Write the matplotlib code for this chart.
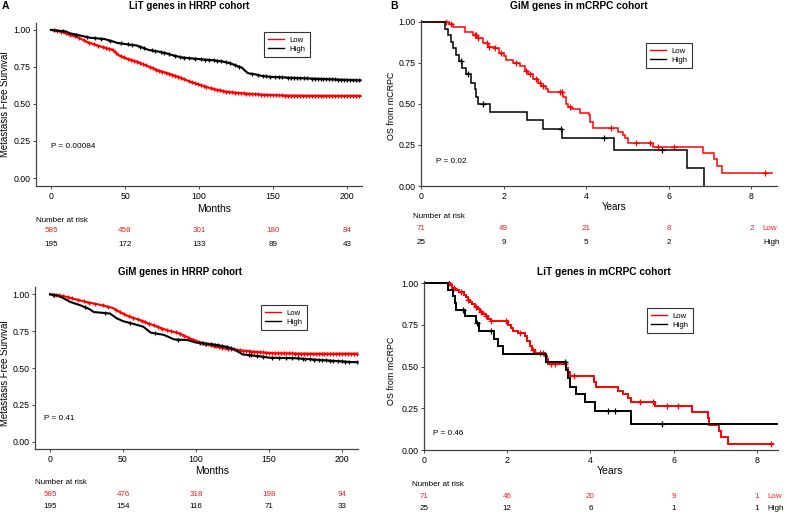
import numpy as np
import matplotlib
matplotlib.use("Agg")
import matplotlib.pyplot as plt
from matplotlib.transforms import blended_transform_factory
from matplotlib.lines import Line2D

plt.rcParams['font.family'] = ['Liberation Sans', 'DejaVu Sans']

W, H = 787, 513
RED = '#ff0000'
RISKRED = '#ee2222'
BLACK = '#000000'
SPINE = '#444444'

# ---------------- data ----------------
# Panel A: LiT genes in HRRP cohort (months)
a_low_t = [0, 3, 8, 12, 18, 24, 33, 42, 45.5, 50, 58, 65, 71.5, 78, 87, 94, 101, 110, 119, 128, 141, 157, 180]
a_low_s = [1.0, 0.997, 0.985, 0.968, 0.952, 0.92, 0.89, 0.865, 0.83, 0.81, 0.786, 0.756, 0.73, 0.71, 0.68, 0.65, 0.627, 0.60, 0.582, 0.573, 0.564, 0.557, 0.555]
a_low_end = 209
a_low_cens = [4, 7, 10, 13, 16, 19, 22, 26, 29, 32, 35, 37, 39, 42, 44, 47, 49, 52, 54, 56, 58, 60, 62, 64, 67, 69, 71, 73, 75, 78, 80, 82, 84, 86, 88, 90, 93, 95, 97, 99, 101, 103, 105, 108, 110, 112, 114, 116, 118, 120, 122, 124, 126, 128, 130, 132, 134, 136, 138, 140, 142, 144, 146, 148, 150, 152, 154, 156, 158, 160, 162, 164, 166, 168, 170, 172, 174, 176, 178, 180, 182, 184, 186, 188, 190, 192, 194, 196, 198, 200, 202, 204, 206, 208]
a_high_t = [0, 10, 13, 20, 26, 36, 41, 45, 50, 58, 62, 66, 72, 77, 82, 88, 95, 104, 110, 116, 121, 125, 129, 131, 133, 138, 142, 149, 165, 207]
a_high_s = [1.0, 0.99, 0.977, 0.962, 0.948, 0.939, 0.925, 0.912, 0.905, 0.895, 0.88, 0.865, 0.855, 0.845, 0.83, 0.815, 0.808, 0.80, 0.795, 0.787, 0.775, 0.76, 0.745, 0.725, 0.708, 0.70, 0.69, 0.683, 0.676, 0.66]
a_high_end = 209
a_high_cens = [2, 8, 17, 24, 30, 34, 40, 47, 52, 55, 60, 63, 68, 70, 74, 76, 80, 84, 87, 90, 93, 97, 101, 104, 107, 110, 112, 115, 118, 121, 124, 127, 136, 140, 143, 145, 148, 151, 154, 156, 160, 162, 164, 166, 168, 171, 173, 176, 178, 180, 182, 184, 186, 188, 190, 192, 194, 196, 198, 200, 202, 204, 206, 208]
a_risk_t = [0, 50, 100, 150, 200]
a_risk_low = [585, 458, 301, 180, 84]
a_risk_high = [195, 172, 133, 89, 43]

# Panel C: GiM genes in HRRP cohort (months)
c_low_t = [0, 9, 16, 25, 34, 43, 48, 53, 62, 71, 80, 89, 96, 103, 112, 121, 130, 140, 153, 180]
c_low_s = [1.0, 0.989, 0.97, 0.948, 0.93, 0.908, 0.88, 0.854, 0.824, 0.79, 0.757, 0.734, 0.70, 0.673, 0.65, 0.633, 0.62, 0.61, 0.60, 0.597]
c_low_end = 211
c_low_cens = [2, 4, 6, 9, 12, 15, 19, 23, 27, 31, 36, 40, 45, 48, 51, 54, 57, 60, 63, 65, 68, 71, 74, 77, 80, 83, 86, 89, 92, 95, 98, 100, 102, 104, 106, 108, 110, 112, 114, 116, 118, 120, 122, 124, 126, 128, 130, 132, 134, 136, 138, 140, 142, 144, 146, 148, 150, 152, 154, 156, 158, 160, 162, 164, 166, 168, 170, 172, 174, 176, 178, 180, 182, 184, 186, 188, 190, 192, 194, 196, 198, 200, 202, 204, 206, 208, 210]
c_high_t = [0, 5, 9, 14, 21, 27, 30, 41, 46, 50, 57, 64, 69, 78, 85, 94, 100, 112, 121, 126, 132, 146, 150, 167, 207]
c_high_s = [1.0, 0.993, 0.975, 0.948, 0.925, 0.90, 0.88, 0.87, 0.836, 0.818, 0.80, 0.78, 0.74, 0.725, 0.694, 0.69, 0.673, 0.66, 0.644, 0.628, 0.592, 0.577, 0.57, 0.567, 0.54]
c_high_end = 212
c_high_cens = [3, 24, 38, 55, 72, 88, 103, 105, 107, 110, 113, 115, 118, 121, 124, 136, 138, 142, 146, 152, 157, 162, 166, 170, 173, 175, 178, 181, 184, 186, 189, 192, 194, 197, 200, 202, 205, 210, 212]
c_risk_t = [0, 50, 100, 150, 200]
c_risk_low = [585, 476, 318, 198, 94]
c_risk_high = [195, 154, 116, 71, 33]

# Panel B: GiM genes in mCRPC cohort (years)
b_low_t = [0.69, 0.77, 1.06, 1.26, 1.35, 1.5, 1.62, 1.78, 1.9, 2.0, 2.07, 2.23, 2.39, 2.51, 2.59, 2.71, 2.83, 2.91, 3.03, 3.07, 3.44, 3.5, 3.56, 3.65, 3.85, 4.07, 4.1, 4.16, 4.77, 4.88, 4.95, 5.02, 5.62, 6.82, 7.09, 7.16, 7.3]
b_low_s = [0.99, 0.97, 0.937, 0.92, 0.90, 0.87, 0.85, 0.84, 0.81, 0.79, 0.77, 0.75, 0.73, 0.70, 0.68, 0.65, 0.63, 0.61, 0.59, 0.574, 0.54, 0.50, 0.48, 0.47, 0.445, 0.43, 0.39, 0.354, 0.33, 0.31, 0.29, 0.265, 0.238, 0.20, 0.165, 0.12, 0.08]
b_low_end = 8.5
b_low_cens = [0.6, 0.72, 1.3, 1.33, 1.37, 1.6, 1.64, 1.8, 1.93, 2.31, 2.55, 2.63, 2.78, 2.87, 2.95, 3.36, 3.41, 3.6, 4.6, 5.2, 5.55, 5.75, 6.12, 8.33]
b_high_t = [0.59, 0.65, 0.72, 0.78, 0.85, 0.93, 1.0, 1.1, 1.22, 1.3, 1.33, 1.38, 1.68, 2.57, 2.96, 3.42, 4.67, 6.43, 6.86]
b_high_s = [0.96, 0.92, 0.88, 0.84, 0.80, 0.76, 0.72, 0.68, 0.63, 0.59, 0.545, 0.50, 0.45, 0.40, 0.35, 0.293, 0.222, 0.111, 0.0]
b_high_end = 6.86
b_high_cens = [0.96, 1.14, 1.49, 3.38, 4.43, 5.83]
b_risk_t = [0, 2, 4, 6, 8]
b_risk_low = [71, 49, 21, 8, 2]
b_risk_high = [25, 9, 5, 2]

# Panel D: LiT genes in mCRPC cohort (years)
d_low_t = [0.62, 0.68, 0.75, 0.85, 0.95, 1.0, 1.05, 1.1, 1.15, 1.22, 1.3, 1.35, 1.42, 1.48, 1.55, 1.6,
           2.02, 2.08, 2.14, 2.25, 2.42, 2.48, 2.54, 2.6, 2.66, 2.9, 2.95, 2.98, 3.42, 3.46, 3.52, 4.08, 4.13,
           4.66, 4.78, 4.9, 4.97, 5.56, 6.45, 6.82, 6.86, 7.1, 7.15, 7.3]
d_low_s = [0.986, 0.972, 0.958, 0.944, 0.93, 0.915, 0.90, 0.886, 0.872, 0.858, 0.843, 0.829, 0.814, 0.80, 0.785, 0.77,
           0.75, 0.73, 0.715, 0.70, 0.68, 0.65, 0.625, 0.60, 0.58, 0.56, 0.545, 0.515, 0.49, 0.47, 0.445, 0.41, 0.38,
           0.355, 0.335, 0.31, 0.289, 0.263, 0.225, 0.19, 0.152, 0.115, 0.075, 0.038]
d_low_end = 8.4
d_low_cens = [0.6, 0.72, 0.9, 1.05, 1.25, 1.38, 1.5, 1.62, 1.97, 2.3, 2.62, 2.78, 2.86, 3.06, 3.14, 3.38, 3.6, 5.2, 5.5, 5.83, 6.11, 8.34]
d_high_t = [0.58, 0.70, 0.74, 0.78, 0.98, 1.24, 1.33, 1.68, 1.79, 1.90, 2.94, 3.42, 3.46, 3.50, 3.66, 3.86, 4.10, 4.97]
d_high_s = [0.96, 0.92, 0.88, 0.84, 0.80, 0.76, 0.71, 0.665, 0.62, 0.573, 0.525, 0.48, 0.43, 0.38, 0.335, 0.285, 0.235, 0.157]
d_high_end = 8.55
d_high_cens = [0.94, 1.28, 1.62, 3.38, 4.42, 4.6, 5.73]
d_risk_t = [0, 2, 4, 6, 8]
d_risk_low = [71, 46, 20, 9, 1]
d_risk_high = [25, 12, 6, 1, 1]

# ---------------- helpers ----------------
fig = plt.figure(figsize=(W / 100, H / 100), dpi=100)


def fx(px):
    return px / W


def fy(py):
    return 1 - py / H


def make_axes(left, right, top, bottom):
    return fig.add_axes([fx(left), fy(bottom), fx(right - left), (bottom - top) / H])


def km(ax, t, s, end, cens, color, lw, ms, steps=True):
    tt = list(t)
    ss = list(s)
    if tt[0] != 0:
        tt = [0] + tt
        ss = [1.0] + ss
    tt = tt + [end]
    ss = ss + [ss[-1]]
    ds = 'steps-post' if steps else 'default'
    ax.plot(tt, ss, drawstyle=ds, color=color, lw=lw, solid_joinstyle='miter')
    tarr = np.array(tt)
    sarr = np.array(ss)
    if steps:
        cy = [sarr[np.searchsorted(tarr, c, side='right') - 1] for c in cens]
    else:
        cy = list(np.interp(cens, tarr, sarr))
    ax.plot(cens, cy, ls='none', marker='+', color=color, ms=ms, mew=0.9)


def style_axes(ax):
    for sp in ['top', 'right']:
        ax.spines[sp].set_visible(False)
    for sp in ['left', 'bottom']:
        ax.spines[sp].set_color(SPINE)
        ax.spines[sp].set_linewidth(0.9)
    ax.tick_params(axis='both', length=2, width=0.7, color=SPINE, labelsize=6.3, pad=2)
    ax.set_yticks([0, 0.25, 0.5, 0.75, 1.0])
    ax.set_yticklabels(['0.00', '0.25', '0.50', '0.75', '1.00'])


def legend(ax, x_px, y_px):
    handles = [Line2D([], [], color=RED, lw=1.0), Line2D([], [], color=BLACK, lw=1.0)]
    lg = ax.legend(handles, ['Low', 'High'], loc='upper left',
                   bbox_to_anchor=(fx(x_px), fy(y_px)), bbox_transform=fig.transFigure,
                   borderaxespad=0, fontsize=5.6, frameon=True, fancybox=False,
                   handlelength=2.0, handletextpad=0.7, borderpad=0.55, labelspacing=0.25)
    lg.get_frame().set_edgecolor('black')
    lg.get_frame().set_linewidth(0.8)


def risk_table(ax, ts, low, high, y_head, y_low, y_high, x_head):
    tr = blended_transform_factory(ax.transData, fig.transFigure)
    fig.text(fx(x_head), fy(y_head), 'Number at risk', fontsize=5.8, ha='left', va='center')
    for t, v in zip(ts, low):
        ax.text(t, fy(y_low), str(v), transform=tr, color=RISKRED, fontsize=5.8, ha='center', va='center')
    for t, v in zip(ts, high):
        ax.text(t, fy(y_high), str(v), transform=tr, color=BLACK, fontsize=5.8, ha='center', va='center')


# ---------------- Panel A ----------------
axA = make_axes(36, 362, 23, 186)
km(axA, a_low_t, a_low_s, a_low_end, a_low_cens, RED, 1.5, 3.2, steps=False)
km(axA, a_high_t, a_high_s, a_high_end, a_high_cens, BLACK, 1.5, 3.2, steps=False)
axA.set_xlim(-10.1, 210)
axA.set_ylim(-0.054, 1.047)
axA.set_xticks([0, 50, 100, 150, 200])
style_axes(axA)
legend(axA, 264, 32)
fig.text(fx(189), fy(6), 'LiT genes in HRRP cohort', fontsize=7, fontweight='bold', ha='center', va='center')
fig.text(fx(2), fy(6), 'A', fontsize=7.5, fontweight='bold', ha='left', va='center')
fig.text(fx(5), fy(104), 'Metastasis Free Survival', fontsize=6.9, rotation=90, ha='center', va='center')
fig.text(fx(214), fy(209), 'Months', fontsize=7.5, ha='center', va='center')
axA.text(0.0, 0.21, 'P = 0.00084', fontsize=5.9, ha='left', va='center')
risk_table(axA, a_risk_t, a_risk_low, a_risk_high, 220, 231, 245, 36)

# ---------------- Panel C ----------------
axC = make_axes(35, 358, 287, 449)
km(axC, c_low_t, c_low_s, c_low_end, c_low_cens, RED, 1.5, 3.2, steps=False)
km(axC, c_high_t, c_high_s, c_high_end, c_high_cens, BLACK, 1.5, 3.2, steps=False)
axC.set_xlim(-10.3, 211)
axC.set_ylim(-0.05, 1.05)
axC.set_xticks([0, 50, 100, 150, 200])
style_axes(axC)
legend(axC, 261, 305)
fig.text(fx(180), fy(272), 'GiM genes in HRRP cohort', fontsize=7, fontweight='bold', ha='center', va='center')
fig.text(fx(5), fy(373), 'Metastasis Free Survival', fontsize=6.9, rotation=90, ha='center', va='center')
fig.text(fx(212), fy(471), 'Months', fontsize=7.5, ha='center', va='center')
axC.text(-4, 0.155, 'P = 0.41', fontsize=5.9, ha='left', va='center')
risk_table(axC, c_risk_t, c_risk_low, c_risk_high, 482, 495, 507, 35)

# ---------------- Panel B ----------------
axB = make_axes(421, 777, 20, 186)
km(axB, b_low_t, b_low_s, b_low_end, b_low_cens, RED, 1.1, 5)
km(axB, b_high_t, b_high_s, b_high_end, b_high_cens, BLACK, 1.1, 5)
axB.set_xlim(0, 8.62)
axB.set_ylim(0, 1.012)
axB.set_xticks([0, 2, 4, 6, 8])
style_axes(axB)
legend(axB, 646, 43)
fig.text(fx(579), fy(6), 'GiM genes in mCRPC cohort', fontsize=7.3, fontweight='bold', ha='center', va='center')
fig.text(fx(390), fy(6), 'B', fontsize=7.5, fontweight='bold', ha='left', va='center')
fig.text(fx(392), fy(106), 'OS from mCRPC', fontsize=6.4, rotation=90, ha='center', va='center')
fig.text(fx(614), fy(207), 'Years', fontsize=7, ha='center', va='center')
axB.text(0.36, 0.15, 'P = 0.02', fontsize=5.9, ha='left', va='center')
risk_table(axB, b_risk_t, b_risk_low, b_risk_high, 217, 229, 243, 413)
fig.text(fx(762), fy(229), 'Low', color=RISKRED, fontsize=5.8, ha='left', va='center')
fig.text(fx(763), fy(243), 'High', color=BLACK, fontsize=5.8, ha='left', va='center')

# ---------------- Panel D ----------------
axD = make_axes(424, 778, 281, 450)
km(axD, d_low_t, d_low_s, d_low_end, d_low_cens, RED, 1.4, 5)
km(axD, d_high_t, d_high_s, d_high_end, d_high_cens, BLACK, 1.4, 5)
axD.set_xlim(0, 8.51)
axD.set_ylim(0, 1.012)
axD.set_xticks([0, 2, 4, 6, 8])
style_axes(axD)
legend(axD, 647, 308)
fig.text(fx(604), fy(272), 'LiT genes in mCRPC cohort', fontsize=7.3, fontweight='bold', ha='center', va='center')
fig.text(fx(392), fy(371), 'OS from mCRPC', fontsize=6.4, rotation=90, ha='center', va='center')
fig.text(fx(610), fy(471), 'Years', fontsize=7.5, ha='center', va='center')
axD.text(0.22, 0.10, 'P = 0.46', fontsize=5.9, ha='left', va='center')
risk_table(axD, d_risk_t, d_risk_low, d_risk_high, 484, 496, 508, 412)
fig.text(fx(767), fy(496), 'Low', color=RISKRED, fontsize=5.8, ha='left', va='center')
fig.text(fx(767), fy(508), 'High', color=BLACK, fontsize=5.8, ha='left', va='center')

fig.savefig('out.png', dpi=100)
